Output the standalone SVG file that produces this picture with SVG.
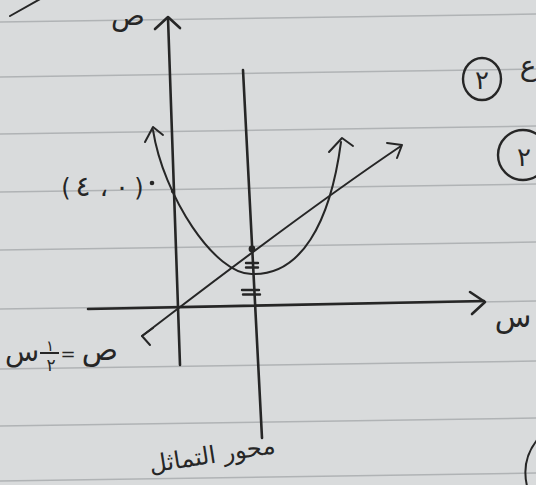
<svg xmlns="http://www.w3.org/2000/svg" width="536" height="485" viewBox="0 0 536 485">
<style>
.ink{fill:none;stroke:#262626;stroke-linecap:round;stroke-linejoin:round}
.ax{stroke-width:2.6}
.cv{stroke-width:2}
.rule{stroke:#b0b3b5;stroke-width:1.5}
.t{font-family:"DejaVu Sans",sans-serif;fill:#262626}
</style>
<rect width="536" height="485" fill="#d9dbdc"/>
<g id="paper-lines">
<line class="rule" x1="0" y1="22" x2="536" y2="14"/>
<line class="rule" x1="0" y1="77" x2="536" y2="69"/>
<line class="rule" x1="0" y1="134" x2="536" y2="126"/>
<line class="rule" x1="0" y1="192" x2="536" y2="184"/>
<line class="rule" x1="0" y1="250" x2="536" y2="242"/>
<line class="rule" x1="0" y1="309" x2="536" y2="301"/>
<line class="rule" x1="0" y1="369" x2="536" y2="361"/>
<line class="rule" x1="0" y1="426" x2="536" y2="418"/>
<line class="rule" x1="0" y1="481" x2="536" y2="473"/>
</g>
<g id="axes">
<path class="ink ax" d="M168,18 L180,365"/>
<path class="ink ax" d="M155,29 L168,17 L180,28"/>
<path class="ink ax" d="M88,309 L484,301"/>
<path class="ink ax" d="M470,292 L485,302 L472,314"/>
</g>
<g id="symmetry-axis">
<path class="ink ax" d="M243,70 L262,438"/>
<circle cx="252" cy="249" r="3.4" fill="#262626"/>
<path class="ink" stroke-width="2.4" d="M246,263 L258,263 M246,267.5 L258,267.5"/>
<path class="ink" stroke-width="2.4" d="M242,290 L259,290 M243,294.5 L260,294.5"/>
</g>
<g id="parabola">
<path class="ink cv" d="M153,130 C163,195 215,276 253,274 C300,275 330,225 341,142"/>
<path class="ink cv" d="M145,142 L153,127 L163,135"/>
<path class="ink cv" d="M329,152 L342,138 L353,146"/>
</g>
<g id="line">
<path class="ink cv" d="M142,336 C200,292 300,214 401,146"/>
<path class="ink cv" d="M387,143 L402,145 L397,158"/>
<path class="ink cv" d="M153,328 L142,336 L150,345"/>
</g>
<g id="labels">
<text class="t" x="128" y="25" font-size="28" text-anchor="middle">ص</text>
<text class="t" x="513" y="327" font-size="30" text-anchor="middle">س</text>
<g id="point-label">
<text class="t" x="66" y="196" font-size="24" text-anchor="middle">(</text>
<text class="t" x="83" y="196" font-size="28" text-anchor="middle">٤</text>
<text class="t" x="104" y="196" font-size="26" text-anchor="middle">،</text>
<text class="t" x="122" y="196" font-size="26" text-anchor="middle">٠</text>
<text class="t" x="139" y="196" font-size="24" text-anchor="middle">)</text>
<circle cx="152" cy="183" r="2.3" fill="#262626"/>
</g>
<circle cx="173" cy="191" r="2.2" fill="#262626"/>
<g id="equation">
<text class="t" x="22" y="361" font-size="28" text-anchor="middle">س</text>
<text class="t" x="50" y="351" font-size="15" text-anchor="middle">١</text>
<line x1="40" y1="353" x2="59" y2="353" stroke="#262626" stroke-width="2"/>
<text class="t" x="51" y="371" font-size="17" text-anchor="middle">٢</text>
<text class="t" x="68" y="360" font-size="18" text-anchor="middle">=</text>
<text class="t" x="100" y="360" font-size="30" text-anchor="middle">ص</text>
</g>
<text class="t" x="212" y="463" font-size="24" text-anchor="middle" transform="rotate(-9 212 455)">محور التماثل</text>
</g>
<g id="margin-marks">
<path class="ink cv" d="M10,16 L42,-2"/>
<ellipse cx="482" cy="79" rx="19" ry="21" class="ink" stroke-width="2.4"/>
<text class="t" x="482" y="89" font-size="26" text-anchor="middle">٢</text>
<text class="t" x="528" y="75" font-size="28" text-anchor="middle">ع</text>
<circle cx="523" cy="155" r="25" class="ink" stroke-width="2.4"/>
<text class="t" x="524" y="166" font-size="26" text-anchor="middle">٢</text>
<path class="ink cv" d="M537,440 Q521,460 527,486"/>
</g>
</svg>
